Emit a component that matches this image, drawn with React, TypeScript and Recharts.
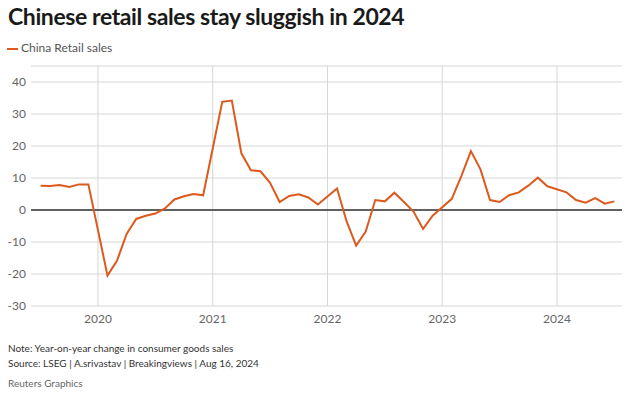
import React from "react";
import { LineChart, Line, XAxis, YAxis, CartesianGrid, ReferenceLine } from "recharts";

// month index: Jan 2019 = 0 (January figures are not published separately)
const months: number[] = [
  6, 7, 8, 9, 10, 11,
  13, 14, 15, 16, 17, 18, 19, 20, 21, 22, 23,
  25, 26, 27, 28, 29, 30, 31, 32, 33, 34, 35,
  37, 38, 39, 40, 41, 42, 43, 44, 45, 46, 47,
  49, 50, 51, 52, 53, 54, 55, 56, 57, 58, 59,
  61, 62, 63, 64, 65, 66,
];
const retailSales: number[] = [
  7.6, 7.5, 7.8, 7.2, 8.0, 8.0,
  -20.5, -15.8, -7.5, -2.8, -1.8, -1.1, 0.5, 3.3, 4.3, 5.0, 4.6,
  33.8, 34.2, 17.7, 12.4, 12.1, 8.5, 2.5, 4.4, 4.9, 3.9, 1.7,
  6.7, -3.5, -11.1, -6.7, 3.1, 2.7, 5.4, 2.5, -0.5, -5.9, -1.8,
  3.5, 10.6, 18.4, 12.7, 3.1, 2.5, 4.6, 5.5, 7.6, 10.1, 7.4,
  5.5, 3.1, 2.3, 3.7, 2.0, 2.7,
];
const xTicks: number[] = [12, 24, 36, 48, 60];
const xTickLabels: string[] = ["2020", "2021", "2022", "2023", "2024"];
const yTicks: number[] = [-30, -20, -10, 0, 10, 20, 30, 40];

const data = months.map((m, i) => ({ m, v: retailSales[i] }));

const FONT = "Lato, 'Open Sans', sans-serif";

export default function App() {
  return (
    <div
      style={{
        position: "absolute",
        left: 0,
        top: 0,
        width: 640,
        height: 394,
        background: "#fff",
        fontFamily: FONT,
        overflow: "hidden",
      }}
    >
      <div
        style={{
          position: "absolute",
          left: 8,
          top: 2,
          fontSize: 23,
          fontWeight: 700,
          color: "#1a1a1a",
          whiteSpace: "nowrap",
          letterSpacing: -0.4,
        }}
      >
        Chinese retail sales stay sluggish in 2024
      </div>
      <div
        style={{
          position: "absolute",
          left: 7,
          top: 47.5,
          width: 11,
          height: 2,
          background: "#dc5a1e",
        }}
      />
      <div
        style={{
          position: "absolute",
          left: 21,
          top: 40,
          fontSize: 12,
          color: "#555",
          whiteSpace: "nowrap",
        }}
      >
        China Retail sales
      </div>
      <div style={{ position: "absolute", left: 0, top: 0 }}>
        <LineChart
          width={640}
          height={336}
          data={data}
          margin={{ top: 66, right: 18, bottom: 0, left: 0 }}
        >
          <CartesianGrid stroke="#d6d6d6" strokeWidth={1} verticalValues={xTicks} />
          <XAxis
            dataKey="m"
            type="number"
            domain={[5, 66.8]}
            ticks={xTicks}
            tickFormatter={(v: number) => xTickLabels[xTicks.indexOf(v)]}
            axisLine={false}
            tickLine={false}
            tickSize={0}
            tickMargin={8}
            height={30}
            tick={{ fill: "#666", fontSize: 12, fontFamily: FONT }}
            allowDataOverflow
          />
          <YAxis
            type="number"
            domain={[-30, 45]}
            ticks={yTicks}
            axisLine={false}
            tickLine={false}
            tickSize={0}
            tickMargin={5}
            width={31}
            tick={{ fill: "#666", fontSize: 12, fontFamily: FONT }}
            allowDataOverflow
          />
          <ReferenceLine y={0} stroke="#333" strokeWidth={1.3} />
          <Line
            type="linear"
            dataKey="v"
            stroke="#dc5a1e"
            strokeWidth={2}
            dot={false}
            isAnimationActive={false}
          />
        </LineChart>
      </div>
      <div
        style={{
          position: "absolute",
          left: 8,
          top: 342.4,
          fontSize: 10,
          lineHeight: "12px",
          color: "#333",
          whiteSpace: "nowrap",
        }}
      >
        Note: Year-on-year change in consumer goods sales
      </div>
      <div
        style={{
          position: "absolute",
          left: 8,
          top: 357.4,
          fontSize: 10,
          lineHeight: "12px",
          color: "#333",
          whiteSpace: "nowrap",
        }}
      >
        Source: LSEG | A.srivastav | Breakingviews | Aug 16, 2024
      </div>
      <div
        style={{
          position: "absolute",
          left: 8,
          top: 377.4,
          fontSize: 10,
          lineHeight: "12px",
          color: "#666",
          whiteSpace: "nowrap",
        }}
      >
        Reuters Graphics
      </div>
    </div>
  );
}
